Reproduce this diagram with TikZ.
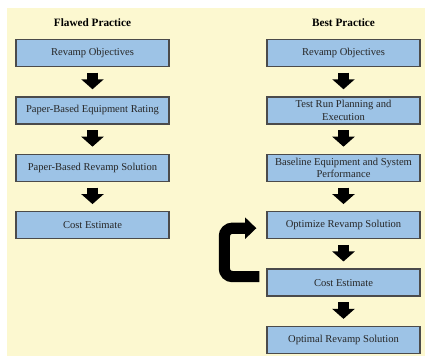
\documentclass[tikz,border=0pt]{standalone}
\usepackage{fontspec}
\setmainfont{Liberation Serif}
\usetikzlibrary{arrows.meta}

\definecolor{panelYellow}{RGB}{252,248,208}
\definecolor{boxBlue}{RGB}{157,195,230}
\definecolor{boxEdge}{RGB}{75,75,75}

\tikzset{
    stepbox/.style={draw=boxEdge, line width=0.9pt, fill=boxBlue, minimum width=3.825cm,
        minimum height=0.675cm, align=center, inner sep=1pt,
        font=\fontsize{7.5}{8.6}\selectfont, text=black!85},
    heading/.style={font=\fontsize{8}{9}\selectfont\bfseries},
    blockarrow/.style={line width=0.275cm, shorten <=0.14cm, shorten >=0.175cm,
        -{Triangle[width=0.55cm, length=0.25cm]}},
    looparrow/.style={line width=0.28cm, rounded corners=0.2cm,
        -{Triangle[width=0.52cm, length=0.28cm]}}
}

\begin{document}
\begin{tikzpicture}[x=0.025cm, y=-0.025cm]
    \def\leftX{92.5} % centre of the left column
    \def\rightX{343.5} % centre of the right column
    \def\topY{53} % centre of the first row
    \def\rowGap{57.4} % distance between the rows

    \useasboundingbox (0,0) rectangle (425,357);
    \fill[panelYellow] (7,8) rectangle (425,356);

    \node[heading] (flawed) at (\leftX, 23) {Flawed Practice};
    \node[heading] (best) at (\rightX, 23) {Best Practice};

    \foreach \name/\txt [count=\i] in {fA/Revamp Objectives, fB/Paper-Based Equipment Rating,
        fC/Paper-Based Revamp Solution, fD/Cost Estimate} {
        \node[stepbox] (\name) at (\leftX, \topY + \i*\rowGap - \rowGap) {\txt};
    }

    \foreach \name/\txt [count=\i] in {bA/Revamp Objectives, bB/{Test Run Planning and\\Execution},
        bC/{Baseline Equipment and System\\Performance}, bD/Optimize Revamp Solution,
        bE/Cost Estimate, bF/Optimal Revamp Solution} {
        \node[stepbox] (\name) at (\rightX, \topY + \i*\rowGap - \rowGap) {\txt};
    }

    \foreach \a/\b in {fA/fB, fB/fC, fC/fD, bA/bB, bB/bC, bC/bD, bD/bE, bE/bF} {
        \draw[blockarrow] (\a.south) -- (\b.north);
    }

    % loop back from the cost estimate to the optimisation
    \draw[looparrow] ([shift={(-7,-6)}]bE.west) -| ([shift={(-42,3)}]bD.west) -- ([shift={(-10,3)}]bD.west);

\end{tikzpicture}
\end{document}
